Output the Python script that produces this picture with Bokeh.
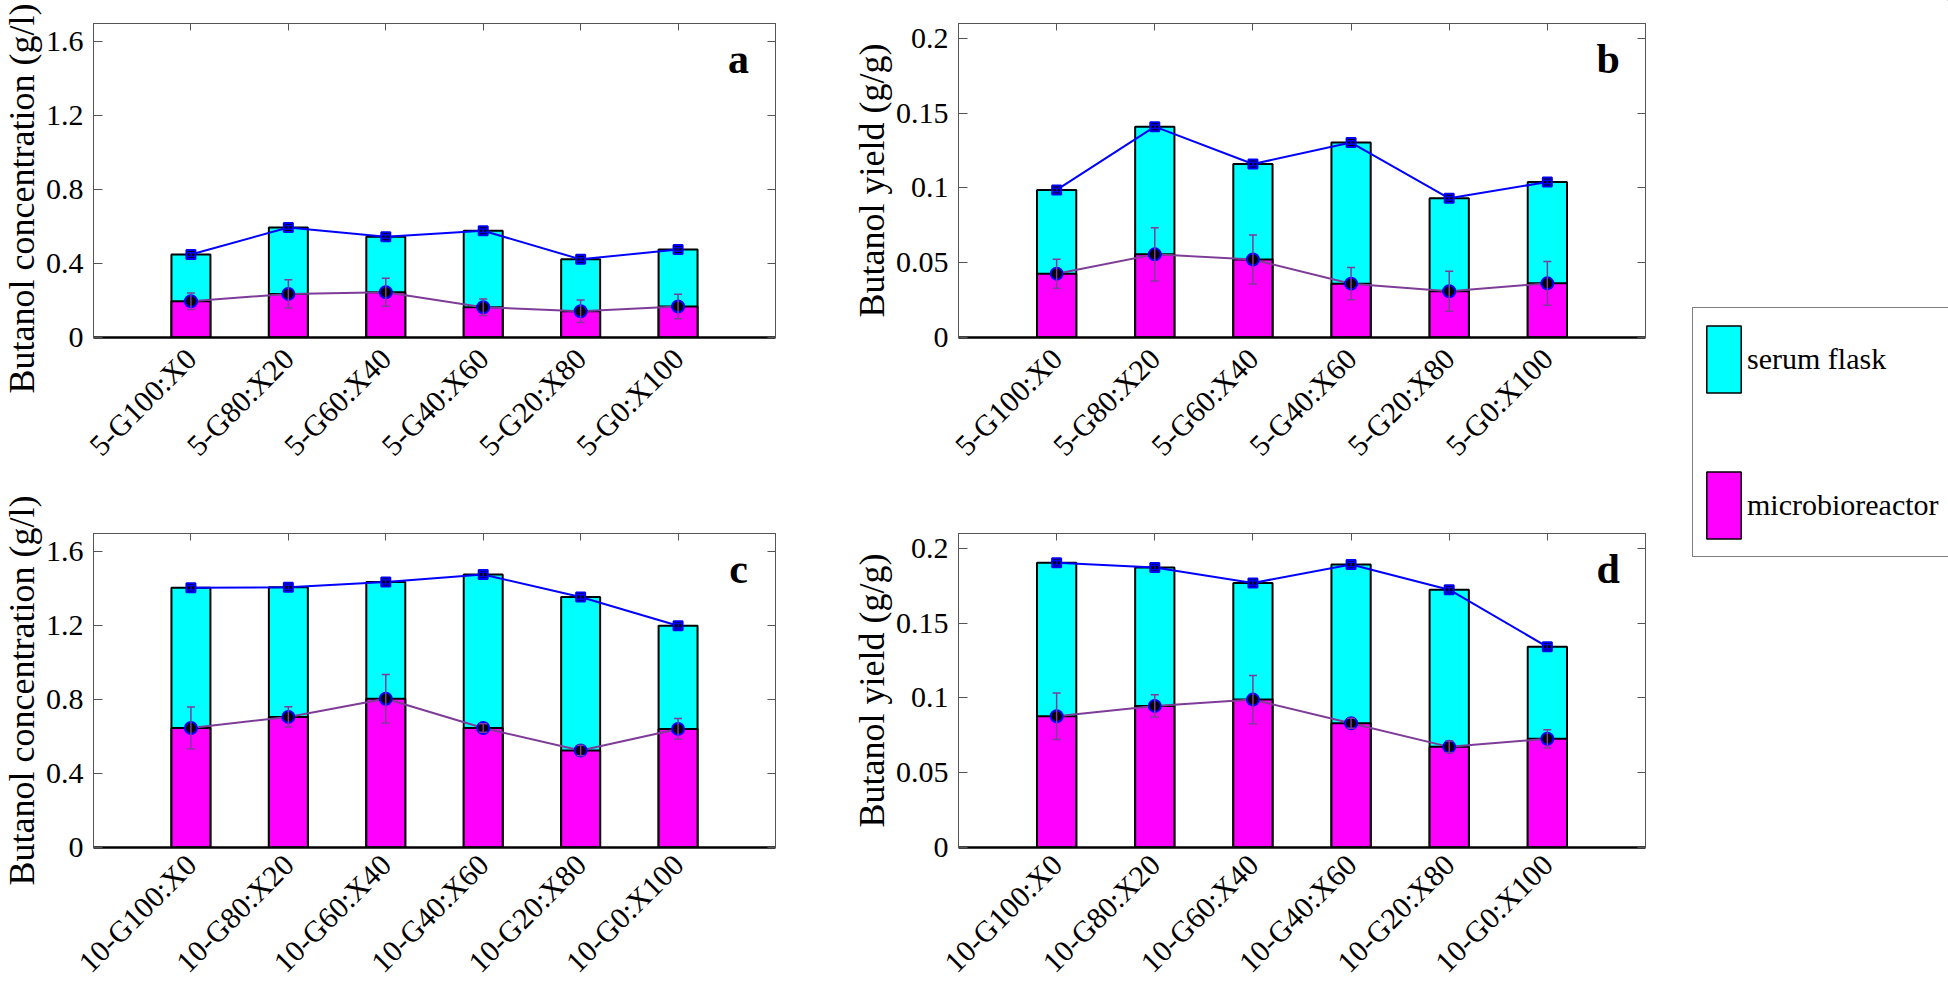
import math
from bokeh.plotting import figure
from bokeh.models import (Range1d, ColumnDataSource, FixedTicker, LinearAxis, Whisker, TeeHead,
                          Label, Legend, LegendItem, Title)
from bokeh.layouts import row, column
from bokeh.embed import file_html
from bokeh.resources import INLINE

# ---------------- data ----------------
cats_5 = ["5-G100:X0", "5-G80:X20", "5-G60:X40", "5-G40:X60", "5-G20:X80", "5-G0:X100"]
cats_10 = ["10-G100:X0", "10-G80:X20", "10-G60:X40", "10-G40:X60", "10-G20:X80", "10-G0:X100"]
positions = [1, 2, 3, 4, 5, 6]

conc_5_serum = [0.449, 0.596, 0.546, 0.578, 0.423, 0.477]
conc_5_serum_err = [0.010, 0.010, 0.010, 0.010, 0.010, 0.010]
conc_5_micro = [0.196, 0.236, 0.245, 0.164, 0.142, 0.168]
conc_5_micro_err = [0.045, 0.076, 0.076, 0.045, 0.061, 0.066]

yield_5_serum = [0.0987, 0.141, 0.116, 0.1304, 0.0931, 0.104]
yield_5_serum_err = [0.0012, 0.0012, 0.0012, 0.0012, 0.0012, 0.0012]
yield_5_micro = [0.0427, 0.0556, 0.0522, 0.0360, 0.0309, 0.0362]
yield_5_micro_err = [0.0097, 0.0178, 0.0164, 0.0108, 0.0134, 0.0147]

conc_10_serum = [1.406, 1.409, 1.438, 1.478, 1.356, 1.201]
conc_10_serum_err = [0.012, 0.012, 0.012, 0.012, 0.012, 0.012]
conc_10_micro = [0.647, 0.707, 0.805, 0.647, 0.525, 0.642]
conc_10_micro_err = [0.113, 0.055, 0.131, 0.023, 0.028, 0.056]

yield_10_serum = [0.1904, 0.1873, 0.1769, 0.1893, 0.1724, 0.1342]
yield_10_serum_err = [0.0015, 0.0015, 0.0015, 0.0015, 0.0015, 0.0015]
yield_10_micro = [0.0878, 0.0947, 0.0989, 0.0831, 0.0673, 0.0727]
yield_10_micro_err = [0.0156, 0.0074, 0.0162, 0.0033, 0.0039, 0.0061]

conc_ticks = [0, 0.4, 0.8, 1.2, 1.6]
conc_tick_labels = ["0", "0.4", "0.8", "1.2", "1.6"]
yield_ticks = [0, 0.05, 0.1, 0.15, 0.2]
yield_tick_labels = ["0", "0.05", "0.1", "0.15", "0.2"]

series_names = ["serum flask", "microbioreactor"]

# ---------------- style ----------------
FONT = "Liberation Serif"
CYAN = "#00FFFF"
MAGENTA = "#FF00FF"
BLUE = "#0000FF"
PURPLE = "#7E3C98"
FRAME = "#555555"


def make_panel(cats, serum, serum_err, micro, micro_err, ymax, yticks, ylabels, ylabel, letter,
               width, height, bl, br, bt, bb, title_align, title_offset, x_standoff):
    p = figure(width=width, height=height, x_range=Range1d(0, 7), y_range=Range1d(0, ymax),
               output_backend="svg", toolbar_location=None,
               min_border_left=bl, min_border_right=br, min_border_top=bt, min_border_bottom=bb)
    p.xgrid.visible = False
    p.ygrid.visible = False
    p.outline_line_color = FRAME
    p.outline_line_width = 1
    p.background_fill_color = "white"
    p.border_fill_color = "white"

    src = ColumnDataSource(dict(
        x=positions, serum=serum, micro=micro,
        s_lo=[v - e for v, e in zip(serum, serum_err)], s_hi=[v + e for v, e in zip(serum, serum_err)],
        m_lo=[v - e for v, e in zip(micro, micro_err)], m_hi=[v + e for v, e in zip(micro, micro_err)],
    ))

    p.vbar(x="x", top="serum", bottom=0, width=0.4, fill_color=CYAN, line_color="black",
           line_width=2, source=src)
    p.vbar(x="x", top="micro", bottom=0, width=0.4, fill_color=MAGENTA, line_color="black",
           line_width=2, source=src)
    p.line("x", "serum", line_color=BLUE, line_width=2, source=src)
    p.line("x", "micro", line_color=PURPLE, line_width=2, source=src)

    p.scatter("x", "serum", marker="square", size=9, fill_color="black", line_color=BLUE,
              line_width=2, source=src)
    p.scatter("x", "micro", marker="circle", size=12, fill_color="black", line_color=BLUE,
              line_width=2, source=src)

    w1 = Whisker(base="x", upper="m_hi", lower="m_lo", source=src, line_color=PURPLE, line_width=1.5,
                 level="annotation",
                 upper_head=TeeHead(size=8, line_color=PURPLE, line_width=1.5),
                 lower_head=TeeHead(size=8, line_color=PURPLE, line_width=1.5))
    w2 = Whisker(base="x", upper="s_hi", lower="s_lo", source=src, line_color=BLUE, line_width=1.5,
                 level="annotation",
                 upper_head=TeeHead(size=8, line_color=BLUE, line_width=1.5),
                 lower_head=TeeHead(size=8, line_color=BLUE, line_width=1.5))
    p.add_layout(w1)
    p.add_layout(w2)

    # bottom axis (categories)
    xa = p.below[0]
    xa.ticker = FixedTicker(ticks=positions)
    xa.major_label_overrides = {pos: c for pos, c in zip(positions, cats)}
    xa.major_label_orientation = math.pi / 4
    xa.major_label_text_font = FONT
    xa.major_label_text_font_size = "30px"
    xa.major_label_text_color = "black"
    xa.major_label_standoff = x_standoff
    xa.major_tick_in = 0
    xa.major_tick_out = 0
    xa.minor_tick_line_color = None
    xa.axis_line_color = "black"
    xa.axis_line_width = 2.5

    # left axis
    ya = p.left[0]
    ya.ticker = FixedTicker(ticks=yticks)
    ya.major_label_overrides = {t: l for t, l in zip(yticks, ylabels)}
    ya.major_label_text_font = FONT
    ya.major_label_text_font_size = "30px"
    ya.major_label_text_color = "black"
    ya.major_label_standoff = 10
    ya.major_tick_in = 9
    ya.major_tick_out = 0
    ya.major_tick_line_color = FRAME
    ya.minor_tick_line_color = None
    ya.axis_line_color = FRAME

    # y-axis title, placed in the left border panel
    p.add_layout(Title(text=ylabel, align=title_align, offset=title_offset, standoff=0,
                       vertical_align="middle", text_font=FONT, text_font_size="36px",
                       text_font_style="normal", text_color="black"), "left")

    # mirrored axes (top / right) with inward ticks, labels not drawn
    top = LinearAxis(ticker=FixedTicker(ticks=positions), major_label_text_font_size="1px",
                     major_label_text_color=None,
                     major_label_standoff=0, major_tick_in=7, major_tick_out=0,
                     major_tick_line_color=FRAME, minor_tick_line_color=None,
                     axis_line_color=FRAME)
    p.add_layout(top, "above")
    right = LinearAxis(ticker=FixedTicker(ticks=yticks), major_label_text_font_size="1px",
                       major_label_text_color=None,
                       major_label_standoff=0, major_tick_in=8, major_tick_out=0,
                       major_tick_line_color=FRAME, minor_tick_line_color=None,
                       axis_line_color=FRAME)
    p.add_layout(right, "right")

    # panel letter
    p.add_layout(Label(x=6.62, y=ymax * 0.887, text=letter, text_font=FONT, text_font_size="42px",
                       text_font_style="bold", text_align="center", text_baseline="alphabetic",
                       text_color="black"))
    return p


pa = make_panel(cats_5, conc_5_serum, conc_5_serum_err, conc_5_micro, conc_5_micro_err, 1.7,
                conc_ticks, conc_tick_labels, "Butanol concentration (g/l)", "a",
                850, 483, 88, 75, 23, 146, "left", -56, 16)
pb = make_panel(cats_5, yield_5_serum, yield_5_serum_err, yield_5_micro, yield_5_micro_err, 0.21,
                yield_ticks, yield_tick_labels, "Butanol yield (g/g)", "b",
                810, 483, 108, 15, 23, 146, "center", 0, 16)
pc = make_panel(cats_10, conc_10_serum, conc_10_serum_err, conc_10_micro, conc_10_micro_err, 1.7,
                conc_ticks, conc_tick_labels, "Butanol concentration (g/l)", "c",
                850, 510, 88, 75, 50, 145, "center", 0, 12)
pd = make_panel(cats_10, yield_10_serum, yield_10_serum_err, yield_10_micro, yield_10_micro_err, 0.21,
                yield_ticks, yield_tick_labels, "Butanol yield (g/g)", "d",
                810, 510, 108, 15, 50, 145, "center", 0, 12)

# legend panel
pleg = figure(width=288, height=993, x_range=Range1d(0, 1), y_range=Range1d(0, 1),
              x_axis_type=None, y_axis_type=None, output_backend="svg", toolbar_location=None,
              min_border=0)
pleg.xgrid.visible = False
pleg.ygrid.visible = False
pleg.outline_line_color = None
r_serum = pleg.vbar(x=[5], top=[5], bottom=[4], width=0.4, fill_color=CYAN, line_color="black",
                    line_width=1.5)
r_micro = pleg.vbar(x=[5], top=[5], bottom=[4], width=0.4, fill_color=MAGENTA, line_color="black",
                    line_width=1.5)
legend = Legend(items=[LegendItem(label=series_names[0], renderers=[r_serum]),
                       LegendItem(label=series_names[1], renderers=[r_micro])],
                location=(32, 436), orientation="vertical", glyph_width=43, glyph_height=84,
                spacing=62, padding=9, label_standoff=2, label_text_font=FONT,
                label_text_font_size="30px", label_text_color="black",
                border_line_color="black", border_line_width=1.5,
                background_fill_color="white", background_fill_alpha=1.0, margin=0)
pleg.add_layout(legend)

layout = row(column(pa, pc), column(pb, pd), pleg)

open("out.html", "w").write(file_html(layout, INLINE))
